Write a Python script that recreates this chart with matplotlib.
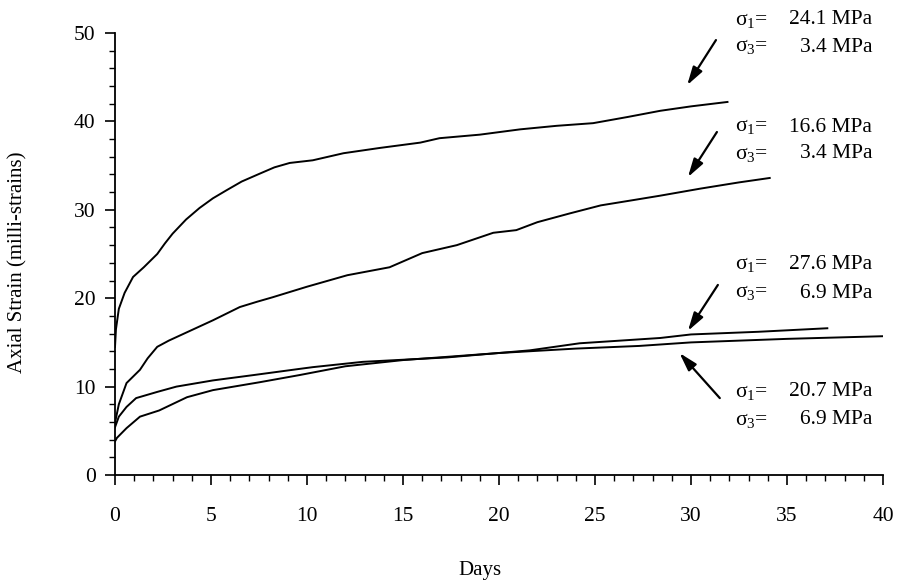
import matplotlib
matplotlib.use("Agg")
import matplotlib.pyplot as plt
from matplotlib.ticker import MultipleLocator

plt.rcParams['font.family'] = ['Liberation Serif', 'DejaVu Serif']
plt.rcParams['mathtext.fontset'] = 'stix'

# creep curves (days, milli-strains)
days_a = [0, 0.05, 0.2, 0.5, 0.94, 1.5, 2.2, 2.6, 3.0, 3.7, 4.4, 5.1, 5.8, 6.6, 7.55, 8.3, 9.1,
          10.3, 11.9, 13.8, 15.9, 16.9, 19.0, 21.1, 23.0, 24.9, 26.7, 28.4, 30.0, 31.9]
strain_a = [14.5, 16.5, 18.8, 20.6, 22.4, 23.5, 25.0, 26.2, 27.3, 28.9, 30.2, 31.3, 32.2, 33.2, 34.1, 34.8, 35.3,
            35.6, 36.4, 37.0, 37.6, 38.1, 38.5, 39.1, 39.5, 39.8, 40.5, 41.2, 41.7, 42.2]

days_b = [0, 0.2, 0.6, 1.3, 1.7, 2.2, 2.8, 3.4, 4.2, 5.1, 6.5, 7.4, 8.2, 10.0, 12.1, 14.3, 16.0, 17.8,
          19.7, 20.9, 22.0, 23.7, 25.3, 27.0, 28.4, 30.5, 32.5, 34.1]
strain_b = [5.9, 8.0, 10.4, 11.9, 13.2, 14.5, 15.2, 15.8, 16.6, 17.5, 19.0, 19.6, 20.1, 21.3, 22.6, 23.5, 25.1, 26.0,
            27.4, 27.7, 28.6, 29.6, 30.5, 31.1, 31.6, 32.4, 33.1, 33.6]

days_c = [0, 0.2, 0.6, 1.1, 2.2, 3.2, 5.1, 7.2, 9.6, 10.3, 12.9, 17.3, 21.6, 24.2, 28.4, 30.0, 33.5, 37.1]
strain_c = [5.4, 6.6, 7.7, 8.7, 9.4, 10.0, 10.7, 11.3, 12.0, 12.2, 12.8, 13.3, 14.1, 14.9, 15.5, 15.9, 16.2, 16.6]

days_d = [0, 0.1, 0.6, 1.3, 2.3, 3.75, 5.1, 7.55, 9.6, 12.0, 15.0, 20.0, 24.0, 27.3, 30.0, 35.0, 40.0]
strain_d = [3.8, 4.2, 5.3, 6.6, 7.3, 8.8, 9.6, 10.5, 11.3, 12.3, 13.0, 13.8, 14.3, 14.6, 15.0, 15.4, 15.7]

sigma1_labels = ["24.1 MPa", "16.6 MPa", "27.6 MPa", "20.7 MPa"]
sigma3_labels = ["3.4 MPa", "3.4 MPa", "6.9 MPa", "6.9 MPa"]

fig = plt.figure(figsize=(9.02, 5.85), dpi=100)
ax = fig.add_axes([115 / 902, 1 - 475 / 585, 768 / 902, 442 / 585])

for xs, ys in [(days_a, strain_a), (days_b, strain_b), (days_c, strain_c), (days_d, strain_d)]:
    ax.plot(xs, ys, color='black', lw=1.4)

ax.set_xlim(0, 40)
ax.set_ylim(0, 50)
ax.spines['top'].set_visible(False)
ax.spines['right'].set_visible(False)
for s in ['left', 'bottom']:
    ax.spines[s].set_linewidth(1.3)

ax.xaxis.set_major_locator(MultipleLocator(5))
ax.xaxis.set_minor_locator(MultipleLocator(1))
ax.yaxis.set_major_locator(MultipleLocator(10))
ax.yaxis.set_minor_locator(MultipleLocator(2))
ax.tick_params(axis='both', which='major', direction='out', length=7, width=1.2, labelsize=15.5)
ax.tick_params(axis='both', which='minor', direction='out', length=4, width=1.0)
ax.tick_params(axis='x', which='major', pad=16)
ax.tick_params(axis='y', which='major', pad=7)

fig.text(480 / 902, 1 - 570 / 585, "Days", ha='center', va='center', fontsize=15)
fig.text(18 / 902, 1 - 262 / 585, "Axial Strain (milli-strains)", rotation=90,
         ha='center', va='center', fontsize=15)

# label blocks: (line1 y px, line2 y px)
label_rows = [(20, 47), (127, 154), (265, 293), (392, 420)]
for (y1, y2), s1, s3 in zip(label_rows, sigma1_labels, sigma3_labels):
    fig.text(735 / 902, 1 - y1 / 585, r"$\mathregular{σ_1}$=", ha='left', va='center', fontsize=15.5)
    fig.text(872 / 902, 1 - y1 / 585, s1, ha='right', va='center', fontsize=15.5)
    fig.text(735 / 902, 1 - y2 / 585, r"$\mathregular{σ_3}$=", ha='left', va='center', fontsize=15.5)
    fig.text(872 / 902, 1 - y2 / 585, s3, ha='right', va='center', fontsize=15.5)

arrows = [((31.3, 49.2), (29.8, 44.1)),
          ((31.35, 38.8), (29.84, 33.7)),
          ((31.4, 21.5), (29.84, 16.3)),
          ((31.5, 8.7), (29.4, 13.8))]
for tail, head in arrows:
    ax.annotate("", xy=head, xytext=tail, annotation_clip=False,
                arrowprops=dict(arrowstyle='-|>,head_length=1.1,head_width=0.32',
                                color='black', lw=1.6, shrinkA=0, shrinkB=0))

fig.savefig("out.png", dpi=100)
